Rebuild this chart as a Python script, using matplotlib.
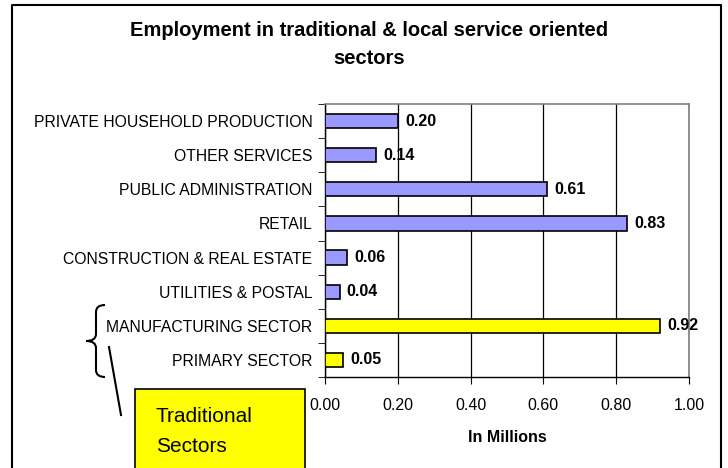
import matplotlib
matplotlib.use("Agg")
import matplotlib.pyplot as plt
from matplotlib.patches import Rectangle, PathPatch
from matplotlib.path import Path
from matplotlib.lines import Line2D

categories = ["PRIMARY SECTOR", "MANUFACTURING SECTOR", "UTILITIES & POSTAL",
              "CONSTRUCTION & REAL ESTATE", "RETAIL", "PUBLIC ADMINISTRATION",
              "OTHER SERVICES", "PRIVATE HOUSEHOLD PRODUCTION"]
values = [0.05, 0.92, 0.04, 0.06, 0.83, 0.61, 0.14, 0.20]
traditional = [True, True, False, False, False, False, False, False]
xticks = [0.0, 0.2, 0.4, 0.6, 0.8, 1.0]

plt.rcParams['font.family'] = ['Liberation Sans', 'DejaVu Sans']

W, H = 728, 468
fig = plt.figure(figsize=(W / 100, H / 100), dpi=100)

def fx(px):
    return px / W

def fy(py):
    return 1 - py / H

# plot area: x 325..689, y 104..377
ax = fig.add_axes([fx(325), fy(377), fx(689) - fx(325), (377 - 104) / H])

colors = ["#FFFF00" if t else "#9999FF" for t in traditional]
ypos = list(range(len(categories)))
ax.barh(ypos, values, height=0.42, color=colors, edgecolor="black", linewidth=1.2, zorder=3)
for y, v in zip(ypos, values):
    ax.text(v + 0.02, y, f"{v:.2f}", va="center", ha="left", fontsize=11.5,
            fontweight="bold", zorder=4)

ax.set_xlim(0, 1.0)
ax.set_ylim(-0.5, len(categories) - 0.5)
ax.set_xticks(xticks)
ax.set_xticklabels([f"{t:.2f}" for t in xticks], fontsize=11.5)
ax.set_yticks(ypos)
ax.set_yticklabels(categories, fontsize=11.3)
ax.set_yticks([y - 0.5 for y in ypos] + [len(categories) - 0.5], minor=True)
ax.tick_params(axis="y", which="major", length=0, pad=9)
ax.tick_params(axis="y", which="minor", length=5, direction="out", color="black")
ax.tick_params(axis="x", length=5, direction="out", pad=10)
ax.xaxis.grid(True, color="black", linewidth=0.9, zorder=0)
for s in ["top", "right"]:
    ax.spines[s].set_color("#808080")
    ax.spines[s].set_linewidth(1.2)
for s in ["left", "bottom"]:
    ax.spines[s].set_color("black")
    ax.spines[s].set_linewidth(1.0)
ax.set_xlabel("In Millions", fontsize=11.5, fontweight="bold", labelpad=12)

# Title
fig.text(fx(369), fy(31), "Employment in traditional & local service oriented",
         ha="center", va="center", fontsize=14.5, fontweight="bold")
fig.text(fx(369), fy(59), "sectors", ha="center", va="center", fontsize=14.5,
         fontweight="bold")

# Outer border (open at bottom)
border = Line2D([fx(12), fx(12), fx(721), fx(721)], [0, fy(5), fy(5), 0],
                transform=fig.transFigure, color="black", linewidth=1.5)
fig.add_artist(border)

# Brace
verts = [(105, 305), (96, 305), (96, 312), (96, 312),
         (96, 334), (96, 334), (96, 341), (86, 341),
         (96, 341), (96, 348), (96, 348),
         (96, 370), (96, 370), (96, 377), (105, 377)]
codes = [Path.MOVETO, Path.CURVE3, Path.CURVE3, Path.LINETO,
         Path.LINETO, Path.LINETO, Path.CURVE3, Path.CURVE3,
         Path.CURVE3, Path.CURVE3, Path.LINETO,
         Path.LINETO, Path.LINETO, Path.CURVE3, Path.CURVE3]
bp = Path([(fx(x), fy(y)) for x, y in verts], codes)
fig.add_artist(PathPatch(bp, transform=fig.transFigure, fill=False,
                         edgecolor="black", linewidth=1.5))

# Pointer line
fig.add_artist(Line2D([fx(109), fx(121)], [fy(347), fy(415)],
                      transform=fig.transFigure, color="black", linewidth=1.5))

# Text box
fig.add_artist(Rectangle((fx(135), fy(475)), fx(305) - fx(135), fy(389) - fy(475),
                         transform=fig.transFigure, facecolor="#FFFF00",
                         edgecolor="black", linewidth=1.2))
fig.text(fx(156), fy(416), "Traditional", ha="left", va="center", fontsize=15)
fig.text(fx(156), fy(446), "Sectors", ha="left", va="center", fontsize=15)

fig.savefig("out.png", dpi=100)
